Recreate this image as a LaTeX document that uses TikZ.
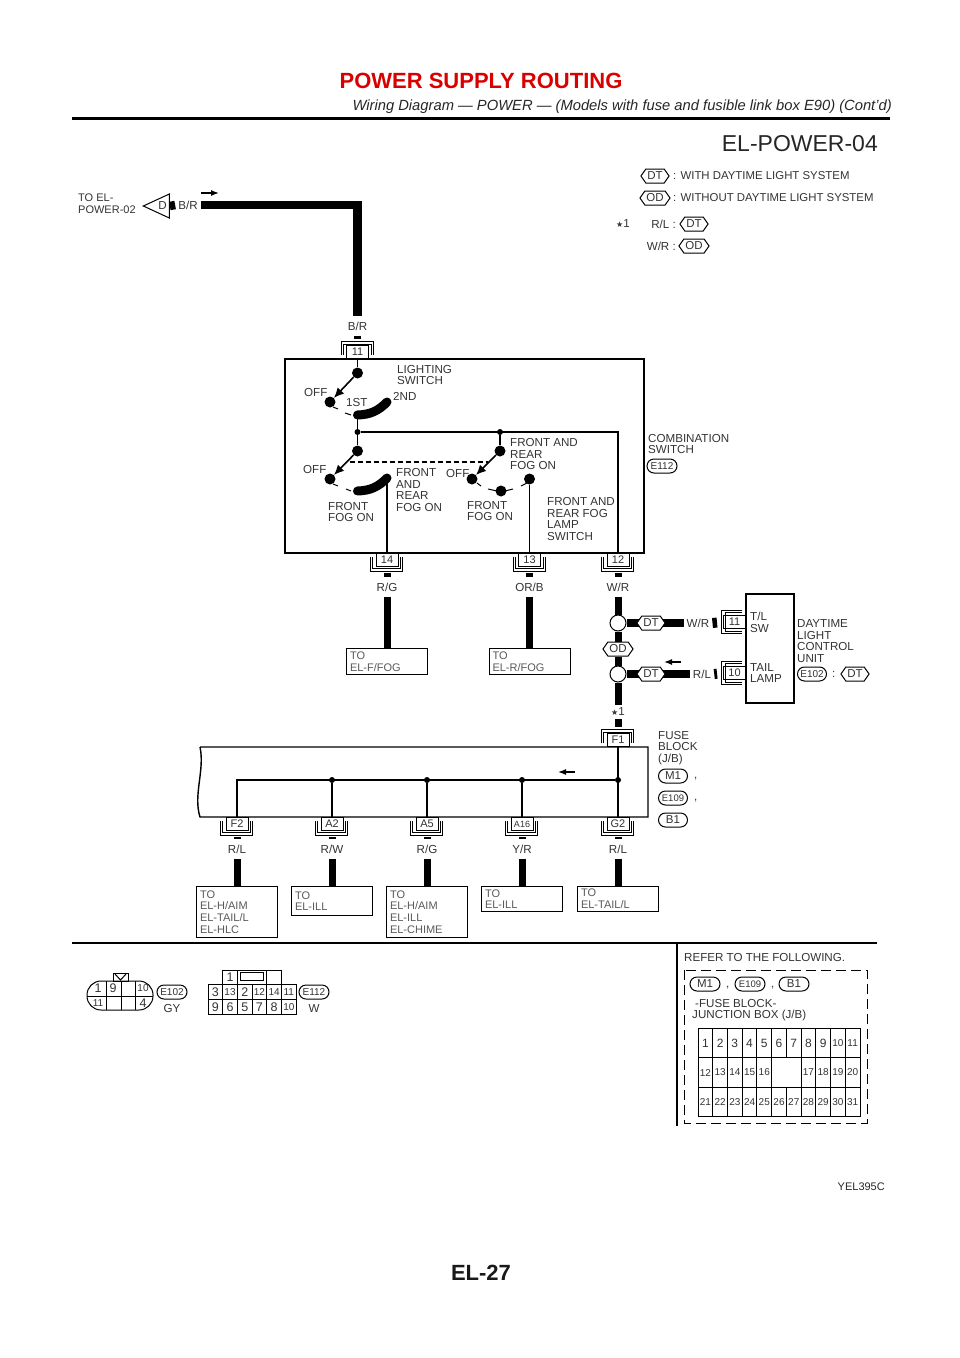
\documentclass[tikz,border=0pt]{standalone}
\usepackage{fontspec}
\setmainfont{Liberation Sans}
\newfontfamily\symfont{DejaVu Sans}
\newcommand{\starmark}{{\symfont\fontsize{8}{8}\selectfont ★}1}
\usepackage{tikz}
\usetikzlibrary{shapes,arrows.meta,positioning}

\begin{document}
\begin{tikzpicture}[x=1pt,y=-1pt]
\tikzstyle{lbl}=[inner sep=0pt,anchor=west,align=left,text=black!80,font=\fontsize{11.6}{11.7}\selectfont]
\tikzstyle{wirelbl}=[inner sep=0pt,inner xsep=3pt,minimum height=19pt,text=black!80,font=\fontsize{11.6}{11.7}\selectfont]
\tikzstyle{wire}=[line width=7pt]
\tikzstyle{heavy}=[line width=8.5pt]
\tikzstyle{pin}=[rectangle,draw,line width=1pt,fill=white,minimum width=22pt,minimum height=13pt,inner sep=0pt,text=black!80,font=\fontsize{11}{11}\selectfont]
\tikzstyle{bracket}=[line width=1pt]
\tikzstyle{togo}=[rectangle,draw,line width=1pt,anchor=north,minimum width=81pt,text width=74pt,inner sep=0pt,align=left,text=black!65,font=\fontsize{11}{11.6}\selectfont]
\tikzstyle{hexa}=[signal,signal to=west and east,signal pointer angle=110,draw,line width=1pt,fill=white,inner xsep=1.5pt,inner ysep=1pt,minimum height=14pt,text=black!80,font=\fontsize{11.5}{11.5}\selectfont]
\tikzstyle{oval}=[rounded rectangle,draw,line width=1pt,fill=white,inner sep=0pt,minimum height=14pt,text=black!80]
\tikzstyle{dot}=[circle,fill=black,minimum size=11pt,inner sep=0pt]
\tikzstyle{junc}=[circle,fill=black,minimum size=6pt,inner sep=0pt]
\tikzstyle{splice}=[circle,draw,line width=1pt,fill=white,minimum size=16pt,inner sep=0pt]
\tikzstyle{flat}=[line width=1.4pt]
\tikzstyle{arm}=[line width=1.6pt,-{Latex[length=10pt,width=9pt]}]
\tikzstyle{flow}=[line width=1.3pt,-{Latex[length=8pt,width=6pt]}]
\tikzstyle{cell}=[rectangle,draw,line width=1pt,inner sep=0pt,minimum width=14.7pt,text=black!80,font=\fontsize{10}{10}\selectfont]
\tikzstyle{bigcell}=[cell,font=\fontsize{12.5}{12.5}\selectfont]
\useasboundingbox (0,0) rectangle (960,1358);

\node[text=red!85!black,font=\fontsize{22}{22}\selectfont\bfseries,inner sep=0pt] (title) at (481,81) {POWER SUPPLY ROUTING};
\node[anchor=east,inner sep=0pt,text=black!85,font=\fontsize{14.75}{14.75}\selectfont\itshape] (subtitle) at (892,106.5) {Wiring Diagram — POWER — (Models with fuse and fusible link box E90) (Cont’d)};
\draw[line width=3pt] (72,118) -- (890,118);
\node[anchor=east,inner sep=0pt,text=black!85,font=\fontsize{23}{23}\selectfont] (page) at (878,144) {EL-POWER-04};

\node[hexa] (legdt) at (655,176) {DT};
\node[lbl,font=\fontsize{11.4}{11.4}\selectfont] (legdttxt) at (673,176) {: WITH DAYTIME LIGHT SYSTEM};
\node[hexa] (legod) at (655,198) {OD};
\node[lbl,font=\fontsize{11.4}{11.4}\selectfont] (legodtxt) at (673,198) {: WITHOUT DAYTIME LIGHT SYSTEM};
\node[lbl] (legstar) at (616,224) {\starmark};
\node[lbl,anchor=east] (legrl) at (676,224) {R/L :};
\node[hexa] (legdt2) at (694,224) {DT};
\node[lbl,anchor=east] (legwr) at (676,246) {W/R :};
\node[hexa] (legod2) at (694,246) {OD};

\node[lbl,font=\fontsize{11}{11.8}\selectfont] (toel) at (78,204) {TO EL-\\POWER-02};
\node[isosceles triangle,isosceles triangle stretches,shape border rotate=180,draw,line width=1pt,fill=white,minimum width=24pt,minimum height=26pt,inner sep=0pt,anchor=apex,text=black!80,font=\fontsize{11.6}{11.6}\selectfont] (td) at (142,206) {D};
\node[wirelbl] (brA) at (188,205) {B/R};
\node[wirelbl] (brB) at (357.5,326) {B/R};
\draw[heavy] (brA.west) -- (td.east);
\draw[heavy] (brA.east) -| (brB.north);
\draw[flow] (201,193) -- ++(18,0);

\draw[line width=1.4pt] (285,359) rectangle (644,553);
\node[pin,anchor=south] (p11) at (357.5,359) {11};
\draw[bracket] (p11.south west) ++(-3,-4) -- ++(0,-11) -- ++(28,0) -- ++(0,11)
               (p11.south west) ++(-5,-4) -- ++(0,-14) -- ++(32,0) -- ++(0,14);
\draw[wire,shorten >=6pt] (brB.south) -- (p11.north);

\node[dot] (s1) at (357.5,373) {};
\node[dot] (s1off) at (330,402) {};
\coordinate (a1a) at (357.5,415);
\coordinate (a1b) at (387,402);
\node[junc] (j1) at (357.5,432) {};
\node[junc] (j2) at (500,432) {};
\node[dot] (s2) at (357.5,451) {};
\node[dot] (s2off) at (330,479) {};
\coordinate (a2a) at (357.5,491);
\coordinate (a2b) at (387,478);
\node[dot] (s3) at (500,451) {};
\node[dot] (s3off) at (472,479) {};
\node[dot] (s3mid) at (501,491) {};
\node[dot] (s3on) at (529.5,479) {};
\coordinate (dl) at (350,462);
\coordinate (dr) at (488,462);
\node[pin,anchor=north] (p14) at (387,553) {14};
\node[pin,anchor=north] (p13) at (529.5,553) {13};
\node[pin,anchor=north] (p12) at (618,553) {12};
\foreach \p in {p14,p13,p12}
  \draw[bracket] (\p.north west) ++(-3,4) -- ++(0,11) -- ++(28,0) -- ++(0,-11)
                 (\p.north west) ++(-5,4) -- ++(0,14) -- ++(32,0) -- ++(0,-14);
\draw[flat] (p11.south) -- (s1);
\path[arm] (s1) edge (s1off)
           (s2) edge (s2off)
           (s3) edge (s3off);
\draw[line width=9pt,line cap=round] (a1a) to[bend right=22] (a1b);
\draw[line width=9pt,line cap=round] (a2a) to[bend right=22] (a2b);
\draw[flat] (a1a) -- (j1);
\draw[flat] (j1) -- (s2);
\draw[flat] (j2) -- (s3);
\draw[flat] (j1) -| (p12.north);
\draw[flat] (a2b) -- (p14.north);
\draw[flat] (s3on) -- (p13.north);
\draw[line width=1.2pt,dash pattern=on 5pt off 3pt] (dl) -- (dr);
\draw[line width=1pt] (333,407) -- (338,409) (345,413) -- (351,415)
                      (333,484) -- (338,486) (346,489) -- (351,491)
                      (477,483) -- (481,486) (488,489) -- (497,491)
                      (505,491) -- (513,489) (521,486) -- (527,483);

\node[lbl] (lsw) at (397,375) {LIGHTING\\SWITCH};
\node[lbl] (off1) at (304,392) {OFF};
\node[lbl] (st1) at (346,402) {1ST};
\node[lbl] (nd2) at (393,396) {2ND};
\node[lbl] (off2) at (303,469) {OFF};
\node[lbl] (ffog1) at (328,512) {FRONT\\FOG ON};
\node[lbl] (frfog1) at (396,490) {FRONT\\AND\\REAR\\FOG ON};
\node[lbl] (off3) at (446,473) {OFF};
\node[lbl] (frfog2) at (510,454) {FRONT AND\\REAR\\FOG ON};
\node[lbl] (ffog2) at (467,511) {FRONT\\FOG ON};
\node[lbl] (fogsw) at (547,519) {FRONT AND\\REAR FOG\\LAMP\\SWITCH};
\node[lbl] (comb) at (648,444) {COMBINATION\\SWITCH};
\node[oval,minimum width=30pt,font=\fontsize{10}{10}\selectfont] (e112) at (662,466) {E112};

\node[wirelbl] (rg) at (387,587) {R/G};
\node[wirelbl] (orb) at (529.5,587) {OR/B};
\node[wirelbl] (wr) at (618,587) {W/R};
\node[togo,minimum height=26pt] (tof) at (387,648) {TO\\EL-F/FOG};
\node[togo,minimum height=26pt] (tor) at (529.5,648) {TO\\EL-R/FOG};
\path[wire] (p14.south) edge[shorten <=6pt] (rg.north)
            (rg.south) edge (tof.north)
            (p13.south) edge[shorten <=6pt] (orb.north)
            (orb.south) edge (tor.north)
            (p12.south) edge[shorten <=6pt] (wr.north);

\node[splice] (cw) at (618,623) {};
\node[splice] (cr) at (618,674) {};
\node[wirelbl] (wr2) at (698,623) {W/R};
\node[wirelbl] (rl2) at (702,674) {R/L};
\node[wirelbl,minimum height=14pt] (star) at (618,712) {\starmark};
\draw[line width=1.4pt] (746,594) rectangle (794,703);
\node[pin,anchor=east] (p11b) at (746,622) {11};
\node[pin,anchor=east] (p10b) at (746,673) {10};
\foreach \p in {p11b,p10b}
  \draw[bracket] (\p.north east) ++(-4,-3) -- ++(-17,0) -- ++(0,19) -- ++(17,0)
                 (\p.north east) ++(-4,-5) -- ++(-21,0) -- ++(0,23) -- ++(21,0);
\node[pin,anchor=south] (pf1) at (618,747) {F1};
\draw[bracket] (pf1.south west) ++(-3,-4) -- ++(0,-11) -- ++(28,0) -- ++(0,11)
               (pf1.south west) ++(-5,-4) -- ++(0,-14) -- ++(32,0) -- ++(0,14);
\node[hexa] (od) at (618,649) {OD};
\path[wire] (wr.south) edge (cw.north)
            (cw.south) edge (od.north)
            (od.south) edge (cr.north)
            (cr.south) edge (star.north)
            (star.south) edge[shorten >=6pt] (pf1.north)
            (cw.east) edge[line width=8pt] (wr2.west)
            (cr.east) edge[line width=8pt] (rl2.west)
            (wr2.east) edge[line width=10pt,shorten >=6pt] (p11b.west)
            (rl2.east) edge[line width=10pt,shorten >=6pt] (p10b.west);
\node[hexa] (dt1) at (651,623) {DT};
\node[hexa] (dt2) at (651,674) {DT};
\draw[flow] (681,662) -- ++(-17,0);
\node[lbl] (tlsw) at (750,622) {T/L\\SW};
\node[lbl] (tail) at (750,673) {TAIL\\LAMP};
\node[lbl] (dlcu) at (797,641) {DAYTIME\\LIGHT\\CONTROL\\UNIT};
\node[oval,minimum width=29pt,font=\fontsize{10}{10}\selectfont] (e102) at (812,674) {E102};
\node[lbl] (colon) at (832,674) {:};
\node[hexa] (dt3) at (855,674) {DT};

\draw[line width=1.4pt] (200,747) -- (648,747) -- (648,817) -- (200,817)
      .. controls (193,795) and (205,770) .. (200,747);
\node[junc] (ja2) at (332,780) {};
\node[junc] (ja5) at (427,780) {};
\node[junc] (ja16) at (522,780) {};
\node[junc] (jg2) at (618,780) {};
\foreach \p/\x/\pn/\w/\hh/\txt in {f2/237/F2/{R/L}/51/{TO\\EL-H/AIM\\EL-TAIL/L\\EL-HLC},
                                 a2/332/A2/{R/W}/29/{TO\\EL-ILL},
                                 a5/427/A5/{R/G}/51/{TO\\EL-H/AIM\\EL-ILL\\EL-CHIME},
                                 a16/522/{\fontsize{9}{9}\selectfont A16}/{Y/R}/25/{TO\\EL-ILL},
                                 g2/618/G2/{R/L}/25/{TO\\EL-TAIL/L}}{
  \node[pin,anchor=north] (p\p) at (\x,817) {\pn};
  \draw[bracket] (p\p.north west) ++(-3,4) -- ++(0,11) -- ++(28,0) -- ++(0,-11)
                 (p\p.north west) ++(-5,4) -- ++(0,14) -- ++(32,0) -- ++(0,-14);
  \node[wirelbl] (w\p) at (\x,849) {\w};
  \node[togo,minimum height=\hh pt] (to\p) at (\x,886) {\txt};
  \path[wire] (p\p.south) edge[shorten <=6pt] (w\p.north)
              (w\p.south) edge (to\p.north);
}
\draw[flat] (pf1.south) -- (pg2.north);
\draw[flat] (pf2.north) |- (jg2);
\draw[flat] (ja2) -- (pa2.north);
\draw[flat] (ja5) -- (pa5.north);
\draw[flat] (ja16) -- (pa16.north);
\draw[flow] (575,772) -- ++(-17,0);
\node[lbl] (fuse) at (658,748) {FUSE\\BLOCK\\(J/B)};
\node[oval,minimum width=29pt,font=\fontsize{11.5}{11.5}\selectfont] (m1) at (673,776) {M1};
\node[lbl] (c1) at (694,779) {,};
\node[oval,minimum width=29pt,font=\fontsize{9.5}{9.5}\selectfont] (e109) at (673,798) {E109};
\node[lbl] (c2) at (694,801) {,};
\node[oval,minimum width=29pt,font=\fontsize{11.5}{11.5}\selectfont] (b1) at (673,820) {B1};

\draw[line width=1.4pt] (72,943) -- (877,943);
\draw[line width=1.6pt] (677,943) -- (677,1126);

\draw[line width=1pt,rounded corners=14pt] (87,981) rectangle (153,1010);
\draw[line width=1pt] (106,981) -- (106,1010) (121,981) -- (121,1010) (135,981) -- (135,1010) (87,996) -- (153,996);
\draw[line width=1pt] (113,981) rectangle (128,973);
\draw[line width=1pt] (115,974) -- (120.5,980) -- (126,974);
\foreach \n/\x/\y/\s in {1/98/988/12.5,9/113/988/12.5,10/143/988/10,11/98/1003/10,4/143/1003/12.5}
  \node[inner sep=0pt,text=black!80,font=\fontsize{\s}{\s}\selectfont] (ca\n) at (\x,\y) {\n};
\node[oval,minimum width=30pt,font=\fontsize{10}{10}\selectfont] (ce102) at (172,992) {E102};
\node[lbl,anchor=center] (gy) at (172,1008) {GY};

\foreach \n/\cc/\rr in {1/2/1,{}/5/1,3/1/2,2/3/2,9/1/3,6/2/3,5/3/3,7/4/3,8/5/3}
  \node[bigcell,minimum height=14.7pt] (cb\cc\rr) at ({208+14.7*(\cc-0.5)},{970+14.7*(\rr-0.5)}) {\n};
\foreach \n/\cc/\rr in {13/2/2,12/4/2,14/5/2,11/6/2,10/6/3}
  \node[cell,minimum height=14.7pt] (cb\cc\rr) at ({208+14.7*(\cc-0.5)},{970+14.7*(\rr-0.5)}) {\n};
\node[cell,minimum width=29.4pt,minimum height=14.7pt] (cbtop) at (252.1,977.35) {};
\draw[line width=1pt] (cbtop.north) ++(-11.5,3) rectangle ++(23,8);
\node[oval,minimum width=30pt,font=\fontsize{10}{10}\selectfont] (ce112) at (314,992) {E112};
\node[lbl,anchor=center] (w) at (314,1008) {W};

\node[lbl] (refer) at (684,957) {REFER TO THE FOLLOWING.};
\draw[line width=1pt,dash pattern=on 10pt off 5pt] (684,970) rectangle (867,1123);
\node[oval,minimum width=30pt,font=\fontsize{11.5}{11.5}\selectfont] (rm1) at (705,984) {M1};
\node[lbl] (rc1) at (726,988) {,};
\node[oval,minimum width=30pt,font=\fontsize{9.5}{9.5}\selectfont] (re109) at (750,984) {E109};
\node[lbl] (rc2) at (771,988) {,};
\node[oval,minimum width=30pt,font=\fontsize{11.5}{11.5}\selectfont] (rb1) at (794,984) {B1};
\node[lbl] (jbox) at (692,1010) {\hspace*{3pt}-FUSE BLOCK-\\JUNCTION BOX (J/B)};

\foreach \n in {1,...,9}
  \node[cell,font=\fontsize{12}{12}\selectfont,minimum height=29.5pt] (t\n) at ({698+14.73*(\n-0.5)},1043) {\n};
\foreach \n in {10,11}
  \node[cell,minimum height=29.5pt] (t\n) at ({698+14.73*(\n-0.5)},1043) {\n};
\foreach \n in {12,...,16}
  \node[cell,minimum height=29.5pt] (t\n) at ({698+14.73*(\n-11.5)},1072.5) {\n};
\node[cell,minimum width=29.46pt,minimum height=29.5pt] (tgap) at ({698+14.73*6},1072.5) {};
\foreach \n in {17,...,20}
  \node[cell,minimum height=29.5pt] (t\n) at ({698+14.73*(\n-9.5)},1072.5) {\n};
\foreach \n in {21,...,31}
  \node[cell,minimum height=29.5pt] (t\n) at ({698+14.73*(\n-20.5)},1102) {\n};

\node[anchor=east,inner sep=0pt,text=black!85,font=\fontsize{11}{11}\selectfont] (code) at (885,1187) {YEL395C};
\node[inner sep=0pt,text=black!90,font=\fontsize{22}{22}\selectfont\bfseries] (pageno) at (481,1273) {EL-27};
\end{tikzpicture}
\end{document}
